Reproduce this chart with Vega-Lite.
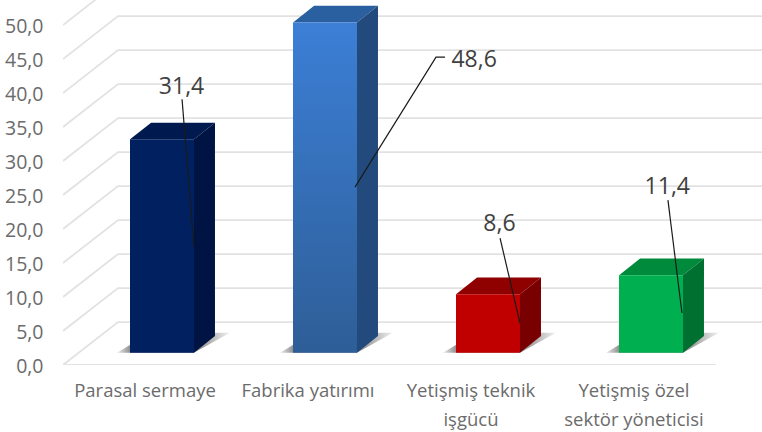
{"$schema":"https://vega.github.io/schema/vega-lite/v6.json","width":699,"height":365,"autosize":{"type":"none"},"padding":{"left":63,"top":0,"right":0,"bottom":67},"background":"white","config":{"view":{"stroke":null},"font":"Open Sans"},
"datasets":{
"bars":[{"category":"Parasal sermaye","value":31.4},{"category":"Fabrika yatırımı","value":48.6},{"category":"Yetişmiş teknik işgücü","value":8.6},{"category":"Yetişmiş özel sektör yöneticisi","value":11.4}],
"grid":[
{"tick":"floor","pos":0,"level":0},{"tick":"floor","pos":4,"level":0},
{"tick":"0","pos":0,"level":0},{"tick":"0","pos":0.337,"level":6.32},{"tick":"0","pos":4.337,"level":6.32},
{"tick":"5","pos":0,"level":5},{"tick":"5","pos":0.337,"level":11.32},{"tick":"5","pos":4.337,"level":11.32},
{"tick":"10","pos":0,"level":10},{"tick":"10","pos":0.337,"level":16.32},{"tick":"10","pos":4.337,"level":16.32},
{"tick":"15","pos":0,"level":15},{"tick":"15","pos":0.337,"level":21.32},{"tick":"15","pos":4.337,"level":21.32},
{"tick":"20","pos":0,"level":20},{"tick":"20","pos":0.337,"level":26.32},{"tick":"20","pos":4.337,"level":26.32},
{"tick":"25","pos":0,"level":25},{"tick":"25","pos":0.337,"level":31.32},{"tick":"25","pos":4.337,"level":31.32},
{"tick":"30","pos":0,"level":30},{"tick":"30","pos":0.337,"level":36.32},{"tick":"30","pos":4.337,"level":36.32},
{"tick":"35","pos":0,"level":35},{"tick":"35","pos":0.337,"level":41.32},{"tick":"35","pos":4.337,"level":41.32},
{"tick":"40","pos":0,"level":40},{"tick":"40","pos":0.337,"level":46.32},{"tick":"40","pos":4.337,"level":46.32},
{"tick":"45","pos":0,"level":45},{"tick":"45","pos":0.337,"level":51.32},{"tick":"45","pos":4.337,"level":51.32},
{"tick":"50","pos":0,"level":50},{"tick":"50","pos":0.337,"level":56.32},{"tick":"50","pos":4.337,"level":56.32}],
"parts":[
{"category":"Parasal sermaye","part":"shadow","pos":0.224,"low":0,"high":0},{"category":"Parasal sermaye","part":"shadow","pos":0.427,"low":0,"high":2.94},{"category":"Parasal sermaye","part":"shadow","pos":0.696,"low":0,"high":2.94},{"category":"Parasal sermaye","part":"shadow","pos":0.917,"low":2.94,"high":2.94},
{"category":"Fabrika yatırımı","part":"shadow","pos":1.224,"low":0,"high":0},{"category":"Fabrika yatırımı","part":"shadow","pos":1.427,"low":0,"high":2.94},{"category":"Fabrika yatırımı","part":"shadow","pos":1.696,"low":0,"high":2.94},{"category":"Fabrika yatırımı","part":"shadow","pos":1.917,"low":2.94,"high":2.94},
{"category":"Yetişmiş teknik işgücü","part":"shadow","pos":2.224,"low":0,"high":0},{"category":"Yetişmiş teknik işgücü","part":"shadow","pos":2.427,"low":0,"high":2.94},{"category":"Yetişmiş teknik işgücü","part":"shadow","pos":2.696,"low":0,"high":2.94},{"category":"Yetişmiş teknik işgücü","part":"shadow","pos":2.917,"low":2.94,"high":2.94},
{"category":"Yetişmiş özel sektör yöneticisi","part":"shadow","pos":3.224,"low":0,"high":0},{"category":"Yetişmiş özel sektör yöneticisi","part":"shadow","pos":3.427,"low":0,"high":2.94},{"category":"Yetişmiş özel sektör yöneticisi","part":"shadow","pos":3.696,"low":0,"high":2.94},{"category":"Yetişmiş özel sektör yöneticisi","part":"shadow","pos":3.917,"low":2.94,"high":2.94},
{"category":"Parasal sermaye","part":"side","pos":0.696,"low":0,"high":31.4},{"category":"Parasal sermaye","part":"side","pos":0.825,"low":2.46,"high":33.86},
{"category":"Fabrika yatırımı","part":"side","pos":1.696,"low":0,"high":48.6},{"category":"Fabrika yatırımı","part":"side","pos":1.825,"low":2.46,"high":51.06},
{"category":"Yetişmiş teknik işgücü","part":"side","pos":2.696,"low":0,"high":8.6},{"category":"Yetişmiş teknik işgücü","part":"side","pos":2.825,"low":2.46,"high":11.06},
{"category":"Yetişmiş özel sektör yöneticisi","part":"side","pos":3.696,"low":0,"high":11.4},{"category":"Yetişmiş özel sektör yöneticisi","part":"side","pos":3.825,"low":2.46,"high":13.86},
{"category":"Parasal sermaye","part":"top","pos":0.304,"low":31.4,"high":31.4},{"category":"Parasal sermaye","part":"top","pos":0.433,"low":31.4,"high":33.86},{"category":"Parasal sermaye","part":"top","pos":0.696,"low":31.4,"high":33.86},{"category":"Parasal sermaye","part":"top","pos":0.825,"low":33.86,"high":33.86},
{"category":"Fabrika yatırımı","part":"top","pos":1.304,"low":48.6,"high":48.6},{"category":"Fabrika yatırımı","part":"top","pos":1.433,"low":48.6,"high":51.06},{"category":"Fabrika yatırımı","part":"top","pos":1.696,"low":48.6,"high":51.06},{"category":"Fabrika yatırımı","part":"top","pos":1.825,"low":51.06,"high":51.06},
{"category":"Yetişmiş teknik işgücü","part":"top","pos":2.304,"low":8.6,"high":8.6},{"category":"Yetişmiş teknik işgücü","part":"top","pos":2.433,"low":8.6,"high":11.06},{"category":"Yetişmiş teknik işgücü","part":"top","pos":2.696,"low":8.6,"high":11.06},{"category":"Yetişmiş teknik işgücü","part":"top","pos":2.825,"low":11.06,"high":11.06},
{"category":"Yetişmiş özel sektör yöneticisi","part":"top","pos":3.304,"low":11.4,"high":11.4},{"category":"Yetişmiş özel sektör yöneticisi","part":"top","pos":3.433,"low":11.4,"high":13.86},{"category":"Yetişmiş özel sektör yöneticisi","part":"top","pos":3.696,"low":11.4,"high":13.86},{"category":"Yetişmiş özel sektör yöneticisi","part":"top","pos":3.825,"low":13.86,"high":13.86}],
"leaders":[
{"category":"Parasal sermaye","pos":0.623,"level":37.31},{"category":"Parasal sermaye","pos":0.696,"level":15.54},
{"category":"Fabrika yatırımı","pos":1.684,"level":24.37},{"category":"Fabrika yatırımı","pos":2.181,"level":43.49},{"category":"Fabrika yatırımı","pos":2.236,"level":43.49},
{"category":"Yetişmiş teknik işgücü","pos":2.574,"level":16.87},{"category":"Yetişmiş teknik işgücü","pos":2.696,"level":4.37},
{"category":"Yetişmiş özel sektör yöneticisi","pos":3.604,"level":22.46},{"category":"Yetişmiş özel sektör yöneticisi","pos":3.69,"level":5.84}],
"labels":[{"text":"31,4","pos":0.62,"level":39.1},{"text":"48,6","pos":2.415,"level":43.05},{"text":"8,6","pos":2.57,"level":18.95},{"text":"11,4","pos":3.6,"level":24.4}]
},
"resolve":{"scale":{"x":"independent","y":"independent","color":"independent"},"axis":{"x":"independent","y":"independent"}},
"layer":[
{"data":{"name":"grid"},"mark":{"type":"line","stroke":"#e2e2e2","strokeWidth":1.8,"clip":true},
"encoding":{"x":{"field":"pos","type":"quantitative","sort":null,"scale":{"domain":[0,4],"range":[0,653]},"axis":null},
"y":{"field":"level","type":"quantitative","scale":{"domain":[0,53.68],"range":[365,0],"nice":false},"axis":{"title":null,"values":[0,5,10,15,20,25,30,35,40,45,50],"labelExpr":"replace(format(datum.value,'.1f'),'.',',')","ticks":false,"domain":false,"grid":false,"labelPadding":20,"labelOffset":1,"labelFontSize":19.5,"labelColor":"#6b6b6b","labelFont":"Open Sans"}},
"detail":{"field":"tick","type":"nominal"},"order":{"field":"pos","type":"quantitative"}}},
{"data":{"name":"parts"},"transform":[{"filter":"datum.part=='shadow'"}],"mark":{"type":"area","orient":"vertical","opacity":0.85,"fill":{"x1":0,"y1":0,"x2":1,"y2":0,"gradient":"linear","stops":[{"offset":0,"color":"#e6e6e6"},{"offset":0.12,"color":"#7a7a7a"},{"offset":0.72,"color":"#7a7a7a"},{"offset":1,"color":"#efefef"}]}},
"encoding":{"x":{"field":"pos","type":"quantitative","scale":{"domain":[0,4],"range":[17.5,669.5]},"axis":null},"y":{"field":"low","type":"quantitative","scale":{"domain":[0,51.91],"range":[352.7,0],"nice":false},"axis":null},"y2":{"field":"high"},"detail":{"field":"category","type":"nominal"}}},
{"data":{"name":"parts"},"transform":[{"filter":"datum.part=='top'"}],"mark":{"type":"area","orient":"vertical"},
"encoding":{"x":{"field":"pos","type":"quantitative","scale":{"domain":[0,4],"range":[17.5,669.5]},"axis":null},"y":{"field":"low","type":"quantitative","scale":{"domain":[0,51.91],"range":[352.7,0],"nice":false},"axis":null},"y2":{"field":"high"},
"color":{"field":"category","type":"nominal","legend":null,"scale":{"domain":["Parasal sermaye","Fabrika yatırımı","Yetişmiş teknik işgücü","Yetişmiş özel sektör yöneticisi"],"range":["#001a50","#2a5fa0","#8f0000","#008a3c"]}}}},
{"data":{"name":"parts"},"transform":[{"filter":"datum.part=='side'"}],"mark":{"type":"area","orient":"vertical"},
"encoding":{"x":{"field":"pos","type":"quantitative","scale":{"domain":[0,4],"range":[17.5,669.5]},"axis":null},"y":{"field":"low","type":"quantitative","scale":{"domain":[0,51.91],"range":[352.7,0],"nice":false},"axis":null},"y2":{"field":"high"},
"color":{"field":"category","type":"nominal","legend":null,"scale":{"domain":["Parasal sermaye","Fabrika yatırımı","Yetişmiş teknik işgücü","Yetişmiş özel sektör yöneticisi"],"range":["#001443","#224a7c","#780000","#007030"]}}}},
{"data":{"name":"bars"},"transform":[{"filter":"datum.category!='Fabrika yatırımı'"}],"mark":{"type":"bar","width":64},
"encoding":{"x":{"field":"category","type":"nominal","sort":null,"scale":{"domain":["Parasal sermaye","Fabrika yatırımı","Yetişmiş teknik işgücü","Yetişmiş özel sektör yöneticisi"],"range":[17.5,669.5],"paddingInner":0,"paddingOuter":0},"axis":{"title":null,"ticks":false,"domain":false,"labelAngle":0,"labelAlign":"center","labelBaseline":"top","labelOffset":-17,"labelPadding":16,"labelFontSize":18.5,"labelColor":"#6b6b6b","labelFont":"Open Sans","labelLineHeight":29,"labelExpr":"indexof(datum.label,'teknik')>=0?['Yetişmiş teknik','işgücü']:indexof(datum.label,'özel')>=0?['Yetişmiş özel','sektör yöneticisi']:datum.label"}},
"y":{"field":"value","type":"quantitative","scale":{"domain":[0,51.91],"range":[352.7,0],"nice":false},"axis":null},
"color":{"field":"category","type":"nominal","legend":null,"scale":{"domain":["Parasal sermaye","Yetişmiş teknik işgücü","Yetişmiş özel sektör yöneticisi"],"range":["#002060","#c00000","#00b050"]}}}},
{"data":{"name":"bars"},"transform":[{"filter":"datum.category=='Fabrika yatırımı'"}],"mark":{"type":"bar","width":64,"fill":{"x1":0,"y1":0,"x2":0,"y2":1,"gradient":"linear","stops":[{"offset":0,"color":"#3c7fd6"},{"offset":1,"color":"#2e5e97"}]}},
"encoding":{"x":{"field":"category","type":"nominal","sort":null,"scale":{"domain":["Parasal sermaye","Fabrika yatırımı","Yetişmiş teknik işgücü","Yetişmiş özel sektör yöneticisi"],"range":[17.5,669.5],"paddingInner":0,"paddingOuter":0},"axis":null},
"y":{"field":"value","type":"quantitative","scale":{"domain":[0,51.91],"range":[352.7,0],"nice":false},"axis":null}}},
{"data":{"name":"leaders"},"mark":{"type":"line","stroke":"#1a1a1a","strokeWidth":1.2},
"encoding":{"x":{"field":"pos","type":"quantitative","scale":{"domain":[0,4],"range":[17.5,669.5]},"axis":null},"y":{"field":"level","type":"quantitative","scale":{"domain":[0,51.91],"range":[352.7,0],"nice":false},"axis":null},"detail":{"field":"category","type":"nominal"}}},
{"data":{"name":"labels"},"mark":{"type":"text","fontSize":23,"font":"Open Sans","color":"#404040","align":"center","baseline":"middle"},
"encoding":{"x":{"field":"pos","type":"quantitative","scale":{"domain":[0,4],"range":[17.5,669.5]},"axis":null},"y":{"field":"level","type":"quantitative","scale":{"domain":[0,51.91],"range":[352.7,0],"nice":false},"axis":null},"text":{"field":"text","type":"nominal"}}}
]}
